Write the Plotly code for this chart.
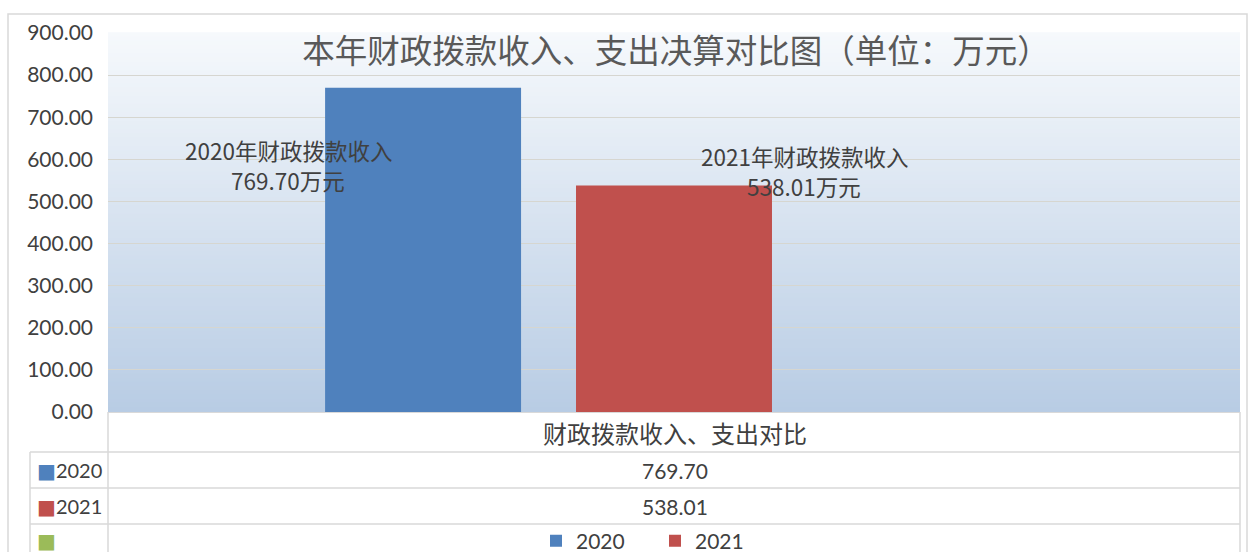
import plotly.graph_objects as go

# ---------------- data ----------------
categories = ["财政拨款收入、支出对比"]
series_names = ["2020", "2021", ""]
series_values = [[769.70], [538.01], [None]]
series_colors = ["#4f81bd", "#c0504d", "#9bbb59"]
bar_label_prefix = ["2020年财政拨款收入", "2021年财政拨款收入"]
unit_suffix = "万元"
y_ticks = [0, 100, 200, 300, 400, 500, 600, 700, 800, 900]
title_text = "本年财政拨款收入、支出决算对比图（单位：万元）"

# ---------------- layout helpers ----------------
W, H = 1254, 552
L, R, T, B = 108, 14, 33, 140
PW, PH = W - L - R, H - T - B


def xp(px):
    return (px - L) / PW


def yp(py):
    return (H - B - py) / PH


FONT = "Lato, 'Noto Sans CJK SC', sans-serif"
CJK = "'Noto Sans CJK SC', sans-serif"
TXT = "#404040"
LINE = "#d9d9d9"

fig = go.Figure()
for name, vals, col in zip(series_names, series_values, series_colors):
    fig.add_trace(go.Bar(
        x=categories, y=vals, name=name, marker=dict(color=col, line=dict(width=0)),
        showlegend=bool(name),
    ))

shapes = []
# gradient background
N = 90
c0 = (0xf6, 0xf9, 0xfc)
c1 = (0xb8, 0xcc, 0xe4)
for i in range(N):
    t = (i + 0.5) / N
    c = tuple(round(a + (b - a) * t) for a, b in zip(c0, c1))
    shapes.append(dict(type="rect", xref="paper", yref="paper", x0=0, x1=1,
                       y0=1 - (i + 1) / N, y1=1 - i / N + 0.002,
                       fillcolor="rgb(%d,%d,%d)" % c, line=dict(width=0), layer="below"))
# outer border
shapes.append(dict(type="rect", xref="paper", yref="paper", x0=xp(8), x1=xp(1247),
                   y0=yp(600), y1=yp(14), line=dict(color=LINE, width=1.5), layer="above"))
# table lines
for py in (452, 488, 524):
    shapes.append(dict(type="line", xref="paper", yref="paper", x0=xp(30), x1=xp(1240),
                       y0=yp(py), y1=yp(py), line=dict(color=LINE, width=1.5)))
for px, top in ((108, 412), (30, 452), (1240, 412)):
    shapes.append(dict(type="line", xref="paper", yref="paper", x0=xp(px), x1=xp(px),
                       y0=yp(top), y1=yp(600), line=dict(color=LINE, width=1.5)))

annotations = []


def ann(px, py, text, font, xanchor="center"):
    annotations.append(dict(xref="paper", yref="paper", x=xp(px), y=yp(py), text=text,
                            showarrow=False, xanchor=xanchor, yanchor="middle", font=font,
                            borderpad=0))


# bar data labels (two lines each)
label_pos = [(288, 150, 180), (804, 156, 186)]
lab_font = dict(family=CJK, size=22.5, color=TXT)
for i, (pref, (px, py1, py2)) in enumerate(zip(bar_label_prefix, label_pos)):
    v = series_values[i][0]
    ann(px, py1, pref, lab_font)
    ann(px, py2, f"{v:.2f}{unit_suffix}", lab_font)

# table category header
ann(675, 432, categories[0], dict(family=CJK, size=24, color=TXT))
# table rows
row_y = [470, 506, 541]
for name, vals, col, py in zip(series_names, series_values, series_colors, row_y):
    ann(36, py, f"<span style='color:{col};font-family:DejaVu Sans'>■</span>{name}",
        dict(family=FONT, size=20, color=TXT), xanchor="left")
    if vals[0] is not None:
        ann(675, py, f"{vals[0]:.2f}", dict(family=FONT, size=21, color=TXT))

fig.update_layout(
    width=W, height=H,
    margin=dict(l=L, r=R, t=T, b=B, autoexpand=False),
    paper_bgcolor="white", plot_bgcolor="white",
    barmode="group", bargap=0.335, bargroupgap=0.219,
    title=dict(text=title_text, x=676 / W, xanchor="center", y=1 - 52 / H, yanchor="middle",
               font=dict(family=CJK, size=32.5, color="#595959")),
    xaxis=dict(showticklabels=False, showgrid=False, showline=True, linecolor=LINE,
               ticks="", zeroline=False),
    yaxis=dict(range=[0, 900], tickvals=y_ticks, tickformat=".2f", showgrid=True,
               gridcolor="#d6d6d0", gridwidth=1, zeroline=False, ticks="",
               ticklabelstandoff=14,
               tickfont=dict(family=FONT, size=21, color=TXT)),
    legend=dict(orientation="h", x=xp(536), xanchor="left", y=yp(541), yanchor="middle",
                font=dict(family=FONT, size=21, color=TXT), bgcolor="rgba(0,0,0,0)",
                itemwidth=30, entrywidth=74),
    shapes=shapes, annotations=annotations,
)

fig.write_html("out.html", config={"displayModeBar": False},
               post_script="document.body.style.margin='0';document.body.style.overflow='hidden';")
